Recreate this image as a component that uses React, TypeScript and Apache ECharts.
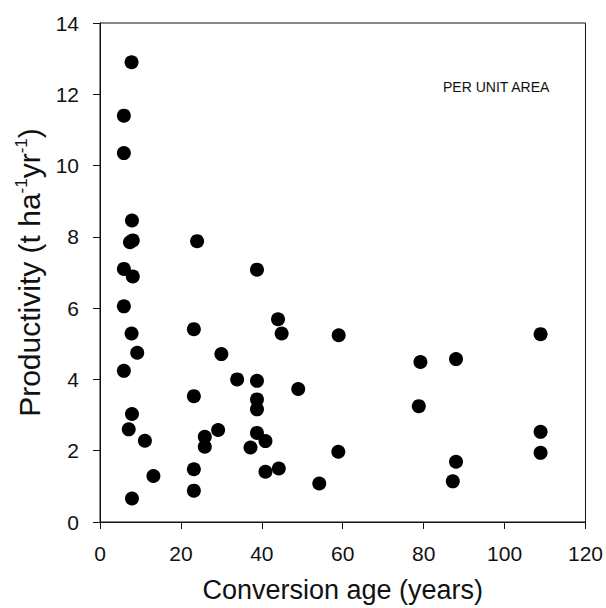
import React, { useEffect, useRef } from "react";
import * as echarts from "echarts";

const ageYears: number[] = [
  7.8, 5.9, 5.9, 7.9, 7.4, 8.1, 24.0, 5.9, 8.1, 38.8,
  5.9, 7.8, 9.2, 5.9, 23.2, 30.0, 44.0, 44.9, 33.9, 38.8,
  23.2, 38.8, 38.8, 7.9, 7.1, 11.1, 29.2, 25.9, 25.9, 38.8,
  40.9, 37.2, 13.2, 23.2, 23.2, 7.9, 40.9, 44.2, 59.0, 49.0,
  79.2, 88.0, 78.8, 108.9, 108.9, 108.9, 58.9, 54.2, 88.0, 87.2,
];
const productivity: number[] = [
  12.9, 11.4, 10.35, 8.46, 7.85, 7.9, 7.88, 7.1, 6.89, 7.08,
  6.05, 5.29, 4.75, 4.24, 5.41, 4.71, 5.69, 5.29, 4.0, 3.96,
  3.53, 3.44, 3.16, 3.03, 2.6, 2.28, 2.58, 2.39, 2.11, 2.5,
  2.27, 2.09, 1.29, 1.48, 0.88, 0.66, 1.41, 1.5, 5.24, 3.73,
  4.49, 4.57, 3.25, 5.27, 2.53, 1.94, 1.97, 1.08, 1.69, 1.14,
];
const xTitle = "Conversion age (years)";
const annotation = "PER UNIT AREA";

const FONT = "'Liberation Sans', Arial, sans-serif";
const INK = "#111";

export default function App() {
  const ref = useRef<HTMLDivElement>(null);
  useEffect(() => {
    document.body.style.margin = "0";
    if (!ref.current) return;
    const chart = echarts.init(ref.current, undefined, { renderer: "svg" });
    const points = ageYears.map((x, i) => [x, productivity[i]]);
    chart.setOption({
      animation: false,
      backgroundColor: "#fff",
      grid: {
        left: 100,
        right: 20,
        top: 23,
        bottom: 86,
        show: true,
        borderColor: INK,
        borderWidth: 1,
        backgroundColor: "transparent",
      },
      xAxis: {
        type: "value",
        min: 0,
        max: 120,
        interval: 20,
        name: xTitle,
        nameLocation: "middle",
        nameGap: 54,
        nameTextStyle: { fontFamily: FONT, fontSize: 27, color: INK },
        axisLine: { show: true, onZero: false, lineStyle: { color: INK, width: 1 } },
        axisTick: { show: true, inside: false, length: 7, lineStyle: { color: INK } },
        axisLabel: { fontFamily: FONT, fontSize: 21, color: INK, margin: 21 },
        splitLine: { show: false },
      },
      yAxis: {
        type: "value",
        min: 0,
        max: 14,
        interval: 2,
        name: "{a|Productivity (t ha}{s|-1}{a|yr}{s|-1}{a|)}",
        nameLocation: "middle",
        nameGap: 45,
        nameTextStyle: {
          rich: {
            a: { fontFamily: FONT, fontSize: 30, color: INK, lineHeight: 33 },
            s: { fontFamily: FONT, fontSize: 17, color: INK, lineHeight: 17, verticalAlign: "top" },
          },
        },
        axisLine: { show: true, onZero: false, lineStyle: { color: INK, width: 1 } },
        axisTick: { show: true, inside: false, length: 7, lineStyle: { color: INK } },
        axisLabel: { fontFamily: FONT, fontSize: 21, color: INK, margin: 21 },
        splitLine: { show: false },
      },
      graphic: [
        {
          type: "text",
          left: 443,
          top: 80,
          style: { text: annotation, fontFamily: FONT, fontSize: 14, fill: INK },
        },
      ],
      series: [
        {
          type: "scatter",
          data: points,
          symbol: "circle",
          symbolSize: 14,
          itemStyle: { color: "#000", opacity: 1 },
        },
      ],
    });
    return () => chart.dispose();
  }, []);
  return <div ref={ref} style={{ width: 606, height: 608 }} />;
}
